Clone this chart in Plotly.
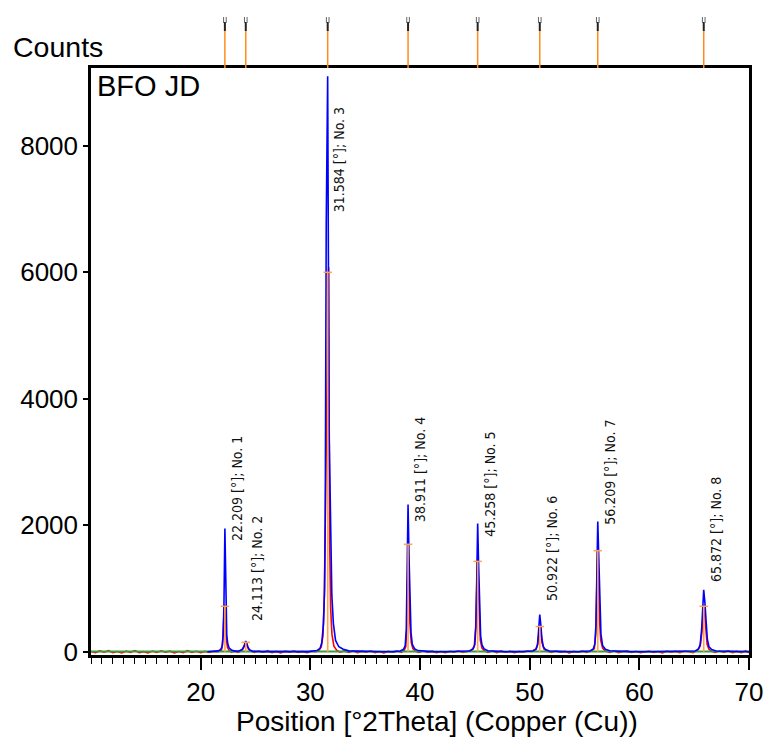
import plotly.graph_objects as go

# ---------------- data ----------------
peak_pos = [22.209, 24.113, 31.584, 38.911, 45.258, 50.922, 56.209, 65.872]
peak_no = [1, 2, 3, 4, 5, 6, 7, 8]
stick_h = [720, 150, 6000, 1700, 1430, 400, 1600, 720]
label_y = [1727, 459, 6922, 2012, 1790, 776, 1980, 1077]

# blue profile
blue_x = [20.6, 21.2, 21.6, 21.8, 21.95, 22.05, 22.12, 22.21, 22.3, 22.38, 22.48, 22.6, 22.8, 23.1,
          23.5, 23.8, 23.95, 24.05, 24.11, 24.2, 24.3, 24.45, 24.7, 25.5, 27.0, 28.5, 29.8,
          30.6, 30.9, 31.05, 31.2, 31.3, 31.36, 31.45, 31.58, 31.71, 31.84, 31.96, 32.1, 32.3, 32.6, 33.0, 33.5,
          35.0, 36.5, 37.6, 38.2, 38.5, 38.65, 38.75, 38.83, 38.91, 39.0, 39.08, 39.18, 39.3, 39.5, 39.8,
          41.0, 42.5, 43.8, 44.5, 44.85, 45.0, 45.1, 45.18, 45.26, 45.34, 45.43, 45.53, 45.65, 45.85, 46.2,
          47.5, 49.0, 50.3, 50.6, 50.72, 50.82, 50.92, 51.02, 51.12, 51.25, 51.45, 51.8,
          53.0, 54.5, 55.5, 55.8, 55.95, 56.05, 56.14, 56.21, 56.3, 56.4, 56.5, 56.65, 56.9, 57.3,
          59.0, 61.0, 63.0, 65.1, 65.4, 65.55, 65.68, 65.78, 65.87, 65.97, 66.08, 66.2, 66.35, 66.6, 67.0,
          68.5, 70.0]
blue_y = [2, 4, 15, 35, 80, 260, 720, 1950, 700, 260, 120, 60, 30, 12,
          14, 40, 90, 150, 170, 140, 80, 35, 10, 4, 2, 3, 4,
          20, 60, 150, 450, 1000, 2080, 6760, 9100, 3500, 1830, 900, 450, 180, 80, 40, 15,
          3, 2, 4, 14, 40, 100, 350, 1200, 2330, 1500, 700, 300, 120, 50, 20,
          3, 2, 3, 14, 45, 120, 400, 1000, 2030, 1400, 650, 250, 110, 45, 18,
          3, 2, 14, 45, 120, 350, 590, 420, 200, 80, 35, 14,
          3, 2, 14, 45, 130, 450, 1200, 2060, 1500, 700, 280, 100, 40, 16,
          3, 2, 3, 14, 45, 120, 350, 700, 980, 800, 450, 200, 80, 35, 14,
          3, 2]

# red scan
red_x = [10.0, 10.4, 10.8, 11.2, 11.6, 12.0, 12.4, 12.8, 13.2, 13.6, 14.0, 14.4, 14.8, 15.2, 15.6,
         16.0, 16.4, 16.8, 17.2, 17.6, 18.0, 18.4, 18.8, 19.2, 19.6, 20.0, 20.4, 20.8, 21.2, 21.6,
         21.9, 22.0, 22.1, 22.18, 22.26, 22.35, 22.45, 22.6, 22.8, 23.1, 23.4, 23.7, 23.9, 24.05, 24.12,
         24.22, 24.35, 24.6, 24.9, 25.3, 25.7, 26.1, 26.5, 26.9, 27.3, 27.7, 28.1, 28.5, 28.9, 29.3,
         29.7, 30.1, 30.5, 30.8, 31.0, 31.15, 31.28, 31.36, 31.47, 31.58, 31.67, 31.76, 31.85, 31.97, 32.15,
         32.4, 32.7, 33.1, 33.5, 33.9, 34.3, 34.7, 35.1, 35.5, 35.9, 36.3, 36.7, 37.1, 37.5, 37.9,
         38.3, 38.55, 38.7, 38.8, 38.87, 38.93, 39.0, 39.08, 39.2, 39.35, 39.6, 39.9, 40.3, 40.7, 41.1,
         41.5, 41.9, 42.3, 42.7, 43.1, 43.5, 43.9, 44.3, 44.7, 44.95, 45.08, 45.17, 45.25, 45.32, 45.4,
         45.5, 45.65, 45.9, 46.2, 46.6, 47.0, 47.4, 47.8, 48.2, 48.6, 49.0, 49.4, 49.8, 50.2, 50.55,
         50.72, 50.83, 50.93, 51.02, 51.12, 51.3, 51.6, 52.0, 52.4, 52.8, 53.2, 53.6, 54.0, 54.4, 54.8,
         55.2, 55.6, 55.9, 56.03, 56.12, 56.2, 56.28, 56.37, 56.48, 56.65, 56.9, 57.3, 57.7, 58.1, 58.5,
         58.9, 59.3, 59.7, 60.1, 60.5, 60.9, 61.3, 61.7, 62.1, 62.5, 62.9, 63.3, 63.7, 64.1, 64.5,
         64.9, 65.3, 65.55, 65.7, 65.8, 65.88, 65.96, 66.06, 66.18, 66.35, 66.6, 66.9, 67.3, 67.7, 68.1,
         68.5, 68.9, 69.3, 69.7, 70.0]
red_y = [6, -12, 14, -6, 18, -14, 4, -18, 10, -8, 20, -12, 3, -18, 12,
         -10, 16, -5, 10, -15, 6, -12, 18, -8, 9, -12, 7, -10, 6, 4,
         25, 120, 520, 745, 520, 180, 70, 20, -6, 9, -8, 12, 60, 120, 150,
         110, 45, 8, -10, 13, -6, 18, -12, 7, -15, 11, -5, 15, -10, 6,
         -12, 9, 4, 25, 80, 250, 900, 2090, 3800, 5200, 6080, 1800, 700, 280, 90,
         25, -6, 15, -10, 12, -14, 7, -5, 17, -12, 6, -15, 9, -6, 13,
         -8, 20, 80, 400, 1200, 1700, 1100, 450, 150, 50, 8, -10, 12, -8, 15,
         -12, 6, -14, 9, -5, 17, -10, 7, 25, 90, 400, 1000, 1430, 1100, 500,
         180, 60, 12, -8, 12, -12, 15, -6, 9, -14, 7, -5, 12, 8, 40,
         110, 300, 410, 330, 150, 45, 8, -10, 13, -6, 11, -15, 7, -5, 15,
         -10, 12, 50, 300, 1000, 1615, 1200, 500, 180, 60, 12, -8, 12, -12, 6,
         15, -8, 9, -12, 5, 13, -10, 6, -15, 11, -5, 7, -12, 9, 3,
         -12, 25, 90, 300, 600, 730, 600, 300, 120, 40, 8, -10, 12, -8, 15,
         -12, 7, -12, 18, -15]

# green background
bg_x = [10.0, 70.0]
bg_y = [6, 6]

x_title = "Position [°2Theta] (Copper (Cu))"

# ---------------- figure ----------------
fig = go.Figure()

fig.add_trace(go.Scatter(x=red_x, y=red_y, mode="lines",
                         line=dict(color="#ff0000", width=1.6), hoverinfo="skip"))
fig.add_trace(go.Scatter(x=bg_x, y=bg_y, mode="lines",
                         line=dict(color="#3f9a3f", width=2), hoverinfo="skip"))
fig.add_trace(go.Scatter(x=blue_x, y=blue_y, mode="lines",
                         line=dict(color="#0000ff", width=1.6), hoverinfo="skip"))

stick_x, stick_y = [], []
for p, h in zip(peak_pos, stick_h):
    stick_x += [p, p, None]
    stick_y += [0, h, None]
fig.add_trace(go.Scatter(x=stick_x, y=stick_y, mode="lines",
                         line=dict(color="#ffa347", width=1.6), hoverinfo="skip"))
fig.add_trace(go.Scatter(x=peak_pos, y=stick_h, mode="markers",
                         marker=dict(symbol="line-ew", size=6, line=dict(color="#ffa347", width=1.5)),
                         hoverinfo="skip"))

H = 737 - 68 - 82  # plot height in px
W = 767 - 91 - 18  # plot width in px
def py(px_above_plot):
    return 1 + px_above_plot / H

shapes = []
for p in peak_pos:
    shapes.append(dict(type="line", xref="x", yref="paper", x0=p, x1=p,
                       y0=py(0), y1=py(38), line=dict(color="#ff8c1a", width=1.5)))
    shapes.append(dict(type="line", xref="x", yref="paper", x0=p, x1=p,
                       y0=py(37), y1=py(46), line=dict(color="#222222", width=2)))
    shapes.append(dict(type="line", xref="x", yref="paper", x0=p - 0.12, x1=p - 0.12,
                       y0=py(45), y1=py(51), line=dict(color="#666666", width=1)))
    shapes.append(dict(type="line", xref="x", yref="paper", x0=p + 0.12, x1=p + 0.12,
                       y0=py(45), y1=py(51), line=dict(color="#666666", width=1)))
fig.update_layout(shapes=shapes)

annotations = []
for p, n, ly in zip(peak_pos, peak_no, label_y):
    annotations.append(dict(x=p, y=ly, xref="x", yref="y", text=f"{p:.3f} [°]; No. {n}",
                            textangle=-90, showarrow=False, xanchor="center", yanchor="bottom",
                            xshift=12, font=dict(family="DejaVu Sans Condensed, DejaVu Sans", size=14,
                                                 color="#111111")))
annotations.append(dict(x=0, y=1, xref="paper", yref="paper", text="BFO JD", showarrow=False,
                        xanchor="left", yanchor="top", xshift=4, yshift=0,
                        font=dict(family="Liberation Sans, Arial", size=29, color="#000000")))
annotations.append(dict(x=0, y=1, xref="paper", yref="paper", text="Counts", showarrow=False,
                        xanchor="left", yanchor="middle", xshift=-80, yshift=21,
                        font=dict(family="Liberation Sans, Arial", size=28.5, color="#000000")))
annotations.append(dict(x=(437 - 91) / W, y=0, xref="paper", yref="paper", text=x_title,
                        showarrow=False, xanchor="center", yanchor="middle", yshift=-66,
                        font=dict(family="Liberation Sans, Arial", size=28, color="#000000")))
fig.update_layout(annotations=annotations)

fig.update_layout(
    width=767, height=737,
    margin=dict(l=91, r=18, t=68, b=82),
    paper_bgcolor="white", plot_bgcolor="white",
    showlegend=False,
    font=dict(family="Liberation Sans, Arial", size=26, color="#000000"),
    xaxis=dict(range=[10, 70], tickvals=[20, 30, 40, 50, 60, 70], ticks="outside", ticklen=12,
               tickwidth=1.5, tickcolor="black", showgrid=False, zeroline=False, automargin=False,
               showline=True, linecolor="black", linewidth=2.5, mirror=True,
               minor=dict(dtick=1, ticks="outside", ticklen=6, tickcolor="black", tickwidth=1),
               tickfont=dict(size=26)),
    yaxis=dict(range=[-50, 9230], tickvals=[0, 2000, 4000, 6000, 8000], ticks="outside",
               ticklen=5, tickwidth=1.5, tickcolor="black", showgrid=False, zeroline=False,
               automargin=False,
               showline=True, linecolor="black", linewidth=2.5, mirror=True,
               tickfont=dict(size=26)),
)

fig.write_html("out.html", config={"displayModeBar": False},
               post_script="document.body.style.margin='0';")
